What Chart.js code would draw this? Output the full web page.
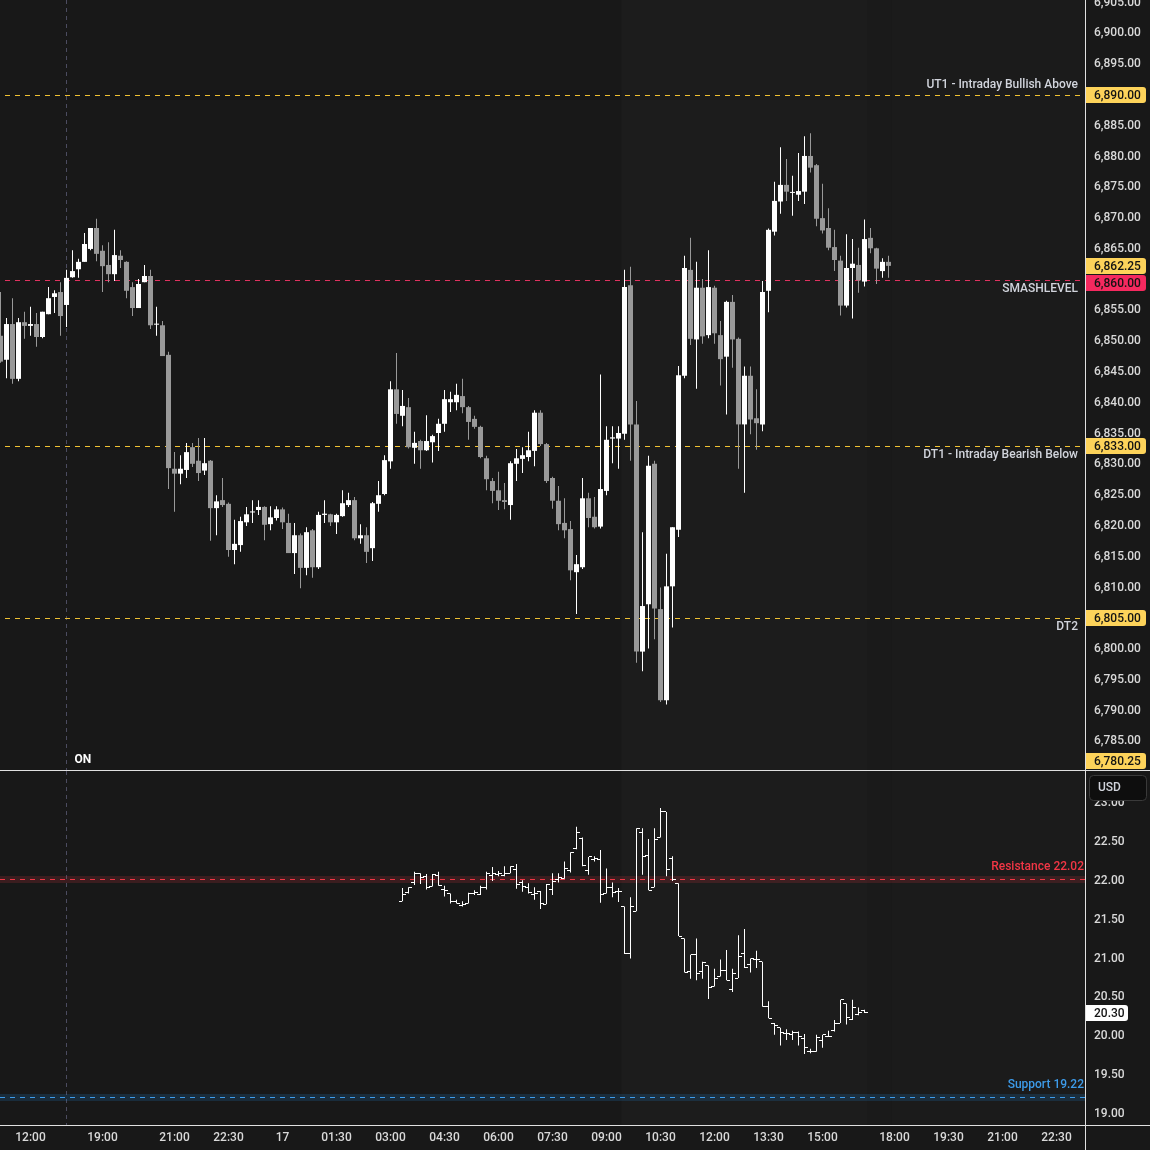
<!DOCTYPE html>
<html>
<head>
<meta charset="utf-8">
<script src="https://cdn.jsdelivr.net/npm/chart.js@4.4.1/dist/chart.umd.min.js"></script>
<style>
  html, body { margin: 0; padding: 0; background: #181818; }
  #wrap { position: relative; width: 1150px; height: 1150px; overflow: hidden; }
  #top { position: absolute; left: 0; top: 0; }
  #bot { position: absolute; left: 0; top: 770px; }
</style>
</head>
<body>
<div id="wrap">
  <canvas id="top" width="1150" height="770"></canvas>
  <canvas id="bot" width="1150" height="380"></canvas>
</div>
<script>
// ---- data: 10-minute ES candles, index 0 = 16:10, index 11 = 18:00 (overnight open)
const opens = [6850.9,6847.0,6852.8,6843.9,6853.1,6852.5,6852.8,6850.7,6854.4,6857.2,6858.0,6855.9,6860.4,6861.7,6862.9,6865.0,6868.4,6864.7,6862.4,6860.9,
  6863.9,6862.9,6858.8,6855.4,6859.6,6860.6,6852.7,6852.6,6847.8,6829.3,6828.5,6829.1,6832.8,6830.6,6829.0,6830.6,6822.9,6824.2,6823.6,6816.1,
  6816.9,6820.6,6822.2,6822.6,6823.1,6820.3,6821.3,6822.7,6820.5,6815.6,6818.5,6813.2,6819.3,6813.3,6821.8,6821.9,6820.6,6821.6,6823.4,6824.2,
  6818.0,6818.5,6816.4,6823.6,6825.2,6830.5,6842.2,6837.9,6839.3,6832.7,6833.8,6832.3,6833.6,6835.1,6836.6,6840.1,6840.1,6841.1,6839.3,6837.4,
  6836.1,6831.0,6827.3,6825.8,6824.2,6823.4,6830.1,6830.9,6831.2,6832.2,6838.4,6833.3,6827.8,6824.1,6820.5,6819.5,6812.5,6813.3,6824.5,6821.5,
  6819.9,6825.7,6834.2,6834.2,6835.0,6859.1,6836.5,6799.6,6807.3,6830.1,6806.5,6791.7,6810.2,6819.4,6844.4,6861.6,6850.3,6858.7,6851.0,6858.7,
  6851.0,6847.5,6856.4,6850.4,6836.5,6844.4,6837.5,6836.5,6858.2,6867.8,6872.7,6875.4,6874.1,6873.8,6874.3,6880.1,6878.6,6870.0,6868.4,6865.3,
  6863.1,6855.8,6861.9,6862.4,6859.7,6866.8,6865.1,6861.4,6862.9];
const highs = [6858.0,6853.8,6857.0,6853.8,6854.8,6855.6,6854.6,6854.8,6858.8,6858.3,6859.6,6861.6,6864.8,6863.4,6867.6,6868.4,6869.9,6865.6,6866.1,6868.1,
  6864.8,6863.0,6859.6,6860.1,6862.4,6861.6,6855.6,6853.3,6848.3,6832.0,6831.5,6833.5,6833.5,6834.3,6834.3,6830.7,6825.0,6827.8,6823.8,6821.0,
  6821.5,6823.1,6824.2,6824.2,6823.2,6823.2,6823.2,6823.0,6822.0,6820.5,6818.8,6819.8,6819.5,6822.3,6824.2,6822.0,6822.0,6825.8,6825.4,6824.7,
  6820.3,6819.8,6823.9,6827.3,6831.5,6843.5,6848.1,6842.1,6840.8,6835.3,6834.0,6838.0,6834.8,6837.4,6842.1,6841.8,6843.1,6843.9,6839.5,6837.9,
  6836.3,6831.4,6827.8,6828.8,6827.0,6830.5,6832.5,6832.8,6835.3,6838.8,6838.8,6833.5,6828.0,6826.5,6824.5,6820.8,6815.3,6827.8,6825.4,6824.7,
  6844.6,6836.2,6836.2,6836.2,6861.6,6862.1,6840.3,6819.0,6831.4,6830.6,6810.0,6815.5,6819.8,6846.0,6863.9,6866.8,6862.9,6860.1,6864.8,6859.0,
  6853.3,6856.6,6857.5,6850.6,6845.9,6845.9,6842.2,6859.8,6868.3,6875.9,6881.5,6879.6,6876.9,6880.6,6883.3,6883.8,6878.8,6875.6,6871.6,6868.1,
  6863.9,6867.4,6866.6,6865.2,6869.8,6868.4,6865.2,6863.5,6863.9];
const lows = [6846.5,6844.0,6843.1,6843.5,6850.4,6850.9,6849.1,6850.5,6854.4,6854.6,6850.9,6852.3,6860.3,6860.3,6862.9,6864.8,6863.0,6858.0,6859.6,6859.8,
  6861.9,6857.0,6854.1,6855.4,6859.6,6852.0,6850.9,6847.6,6826.0,6822.3,6826.8,6827.8,6829.6,6827.3,6828.3,6817.6,6818.5,6823.1,6815.0,6813.8,
  6815.8,6820.0,6820.5,6821.8,6817.7,6819.3,6820.9,6819.5,6815.6,6812.2,6809.9,6812.0,6811.6,6813.0,6820.5,6820.0,6818.7,6821.5,6823.1,6817.7,
  6817.1,6814.0,6814.3,6822.3,6825.0,6829.3,6836.6,6836.2,6832.6,6830.1,6829.3,6832.2,6830.3,6832.2,6835.3,6838.5,6838.8,6838.3,6834.0,6835.8,
  6831.0,6825.8,6823.7,6822.6,6822.7,6821.0,6827.3,6828.6,6830.5,6829.7,6833.0,6827.0,6822.8,6819.3,6818.0,6811.2,6805.7,6813.0,6819.8,6819.6,
  6819.6,6825.0,6830.2,6829.3,6834.0,6830.6,6797.8,6796.4,6800.1,6801.6,6791.4,6791.0,6803.5,6818.2,6844.0,6849.4,6842.3,6849.6,6850.5,6849.6,
  6842.8,6838.1,6845.7,6829.3,6825.4,6834.9,6832.4,6835.4,6854.7,6867.2,6870.7,6872.8,6870.4,6872.8,6872.3,6877.4,6868.7,6867.5,6864.8,6861.4,
  6854.2,6855.5,6853.7,6857.9,6858.9,6864.3,6859.3,6860.3,6860.3];
const closes = [6846.7,6852.8,6843.9,6853.1,6852.5,6852.8,6850.7,6854.8,6857.0,6857.8,6854.1,6860.3,6861.4,6862.9,6865.8,6868.4,6864.2,6862.2,6860.9,6864.0,
  6863.2,6858.2,6855.4,6859.3,6860.6,6852.6,6852.8,6847.6,6829.4,6828.5,6829.3,6832.0,6830.1,6828.6,6830.2,6822.9,6824.0,6823.4,6816.1,6817.1,
  6820.8,6821.9,6822.3,6823.1,6820.2,6821.4,6822.7,6820.6,6815.6,6818.5,6813.2,6819.0,6813.3,6821.8,6822.0,6820.6,6821.8,6823.7,6824.2,6818.0,
  6818.5,6815.8,6823.7,6825.0,6830.7,6842.2,6838.2,6839.5,6832.8,6833.5,6832.3,6833.8,6834.6,6836.6,6840.6,6840.6,6841.3,6839.3,6836.9,6836.1,
  6831.2,6827.6,6825.7,6824.1,6823.9,6830.2,6831.0,6831.5,6832.3,6838.4,6833.3,6827.3,6824.1,6820.3,6819.3,6812.8,6813.8,6824.5,6821.3,6819.8,
  6826.0,6834.0,6834.4,6835.1,6858.8,6836.5,6799.6,6807.0,6829.8,6806.6,6791.7,6810.2,6819.8,6844.5,6861.9,6850.4,6858.7,6850.8,6858.8,6851.3,
  6847.1,6856.4,6850.3,6836.5,6844.4,6837.3,6836.7,6858.0,6868.1,6872.8,6875.4,6874.3,6874.2,6874.4,6880.1,6878.2,6869.9,6868.0,6865.2,6863.2,
  6855.8,6861.9,6862.6,6859.9,6866.6,6865.1,6861.8,6862.9,6862.25];

// VIX bars, first bar at candle index 67 (03:20)
const VIX_START = 67;
const vixOpen = [21.74,21.85,21.98,22.10,22.06,21.93,22.07,21.89,21.84,21.74,21.69,21.71,21.84,21.82,21.91,22.07,22.09,22.07,22.10,22.15,
  21.98,21.92,21.83,21.87,21.70,21.89,22.02,22.03,22.13,22.42,22.55,22.14,22.28,22.28,21.84,21.91,21.87,21.67,21.06,21.61,
  22.63,22.33,21.92,22.56,22.89,22.29,21.97,21.26,20.84,21.05,20.84,20.91,20.64,20.77,20.85,20.60,20.75,21.07,20.93,20.99,
  20.96,20.38,20.16,20.11,20.04,20.02,20.05,19.97,19.80,19.80,19.95,20.00,20.08,20.17,20.42,20.21,20.28,20.33];
const vixHigh = [21.91,21.92,22.12,22.10,22.09,22.09,22.12,21.94,21.84,21.76,21.74,21.85,21.88,21.94,22.12,22.18,22.13,22.19,22.19,22.22,
  22.01,21.97,21.92,21.87,21.96,22.10,22.10,22.25,22.37,22.70,22.56,22.31,22.32,22.40,22.16,21.98,21.91,21.67,21.79,22.68,
  22.68,22.54,22.68,22.94,22.89,22.32,21.97,21.26,21.05,21.26,20.96,20.91,20.87,20.99,21.11,20.87,21.30,21.38,21.00,21.10,
  20.96,20.45,20.17,20.11,20.09,20.07,20.06,20.03,19.84,20.02,20.02,20.07,20.21,20.47,20.42,20.47,20.37,20.34];
const vixLow = [21.74,21.84,21.95,21.96,21.89,21.93,21.94,21.80,21.71,21.71,21.67,21.71,21.82,21.82,21.89,22.00,22.06,22.06,22.10,21.90,
  21.86,21.84,21.76,21.64,21.70,21.82,21.98,22.03,22.11,22.41,22.19,22.08,22.25,21.72,21.84,21.79,21.73,21.06,21.00,21.61,
  22.08,21.88,21.92,22.56,22.06,22.00,21.29,20.82,20.74,20.72,20.74,20.48,20.64,20.77,20.72,20.57,20.75,20.88,20.82,20.88,
  20.38,20.23,20.02,19.88,19.95,19.95,19.88,19.77,19.78,19.80,19.85,19.99,20.06,20.17,20.15,20.21,20.27,20.30];
const vixClose = [21.83,21.91,22.10,22.05,21.92,22.09,21.94,21.88,21.74,21.71,21.70,21.84,21.85,21.91,22.10,22.10,22.10,22.10,22.19,21.96,
  21.93,21.85,21.84,21.71,21.96,22.00,22.05,22.16,22.37,22.62,22.20,22.31,22.29,21.83,21.92,21.85,21.86,21.06,21.67,22.68,
  22.32,21.88,22.54,22.90,22.15,22.02,21.29,20.82,21.05,20.81,20.95,20.63,20.75,20.85,20.72,20.81,21.03,20.88,21.00,20.99,
  20.38,20.23,20.14,20.05,20.04,20.05,19.99,19.86,19.80,19.98,20.02,19.99,20.17,20.47,20.24,20.37,20.31,20.30];

// axis ticks
const timeTickIdx = [5, 17, 29, 38, 47, 56, 65, 74, 83, 92, 101, 110, 119, 128, 137, 149, 158, 167, 176];
const timeTickLabels = ['12:00','19:00','21:00','22:30','17','01:30','03:00','04:30','06:00','07:30','09:00','10:30','12:00','13:30','15:00','18:00','19:30','21:00','22:30'];
const priceTicks = [6785,6790,6795,6800,6810,6815,6820,6825,6830,6835,6840,6845,6850,6855,6865,6870,6875,6880,6885,6895,6900,6905];
const vixTicks = [19.0, 19.5, 20.0, 20.5, 21.0, 21.5, 22.0, 22.5, 23.0];

// key levels
const levelPrices = [6890, 6860, 6833, 6805];
const levelNames = ['UT1 - Intraday Bullish Above', 'SMASHLEVEL', 'DT1 - Intraday Bearish Below', 'DT2'];
const offscreenLevel = 6780.25;
const vixLevels = [22.02, 19.22];
const vixLevelNames = ['Resistance 22.02', 'Support 19.22'];

// session shading (candle index boundaries)
const sessionFrom = [103.5, 144.5, 148.5];
const sessionTo = [144.5, 148.5, 180.75];
const onIndex = 11;

// ---- styles
const BG = '#181818';
const SESSION_BG = ['#1c1c1c', '#1a1a1a', '#1b1b1b'];
const UP = '#ffffff', DOWN = '#999999';
const YELLOW = '#fdd35a', YELLOW_LINE = '#f0c232';
const PINK = '#f5295f', PINK_LINE = '#e0325f';
const AXIS = '#e0e0e0';
const TEXT = '#d9d9d9';
const FONT = 'Roboto, "Liberation Sans", Arial, sans-serif';
const WEIGHT = '500';
const X_MIN = -1 / 12, X_MAX = 180.75;

const fmt = v => v.toLocaleString('en-US', { minimumFractionDigits: 2, maximumFractionDigits: 2 });

function dashH(ctx, x0, x1, y, color, dash) {
  ctx.save();
  ctx.strokeStyle = color;
  ctx.lineWidth = 1;
  ctx.setLineDash(dash);
  ctx.beginPath();
  ctx.moveTo(x0, Math.round(y) + 0.5);
  ctx.lineTo(x1, Math.round(y) + 0.5);
  ctx.stroke();
  ctx.restore();
}

function badge(ctx, y, fill, text, textColor, w) {
  ctx.save();
  ctx.fillStyle = fill;
  ctx.beginPath();
  ctx.roundRect(1086, Math.round(y - 8), w || 60, 16, [0, 3, 3, 0]);
  ctx.fill();
  ctx.fillStyle = textColor;
  ctx.font = WEIGHT + ' 12px ' + FONT;
  ctx.textAlign = 'left';
  ctx.textBaseline = 'middle';
  ctx.fillText(text, 1094, Math.round(y) + 0.5);
  ctx.restore();
}

function paintSessions(chart) {
  const { ctx, chartArea: a, scales: { x } } = chart;
  ctx.save();
  ctx.fillStyle = BG;
  ctx.fillRect(0, 0, chart.width, chart.height);
  sessionFrom.forEach((s, k) => {
    const x0 = x.getPixelForValue(s), x1 = x.getPixelForValue(sessionTo[k]);
    ctx.fillStyle = SESSION_BG[k];
    ctx.fillRect(x0, a.top, x1 - x0, a.bottom - a.top);
  });
  ctx.restore();
}

function onLine(chart, y0, y1) {
  const { ctx, scales: { x } } = chart;
  const px = Math.floor(x.getPixelForValue(onIndex)) + 0.5;
  ctx.save();
  ctx.strokeStyle = '#4c4c60';
  ctx.lineWidth = 1;
  ctx.setLineDash([4, 4]);
  ctx.beginPath();
  ctx.moveTo(px, y0);
  ctx.lineTo(px, y1);
  ctx.stroke();
  ctx.restore();
}

// keep the axis labels from shrinking the plot area
const noPadY = s => { s.width = 65; s.paddingTop = 0; s.paddingBottom = 0; };
const noPadX = s => { s.height = 25; s.paddingLeft = 0; s.paddingRight = 0; };

const topDecor = {
  id: 'topDecor',
  beforeDraw: paintSessions,
  beforeDatasetsDraw(chart) {
    const { ctx, chartArea: a, scales: { y } } = chart;
    onLine(chart, a.top, a.bottom);
    levelPrices.forEach((p, k) => {
      dashH(ctx, 5, a.right, y.getPixelForValue(p), k === 1 ? PINK_LINE : YELLOW_LINE, [5, 5]);
    });
  },
  afterDatasetsDraw(chart) {
    const { ctx, chartArea: a, scales: { x, y } } = chart;
    ctx.save();
    ctx.font = WEIGHT + ' 12px ' + FONT;
    ctx.fillStyle = '#d1d4dc';
    ctx.textAlign = 'right';
    ctx.textBaseline = 'middle';
    levelPrices.forEach((p, k) => {
      const py = y.getPixelForValue(p);
      ctx.fillText(levelNames[k], a.right - 7, k === 0 ? py - 10 : py + 9);
    });
    ctx.font = 'bold 12px ' + FONT;
    ctx.fillStyle = '#ffffff';
    ctx.textAlign = 'left';
    ctx.fillText('ON', x.getPixelForValue(onIndex) + 8, a.bottom - 10);
    ctx.restore();
  },
  afterDraw(chart) {
    const { ctx, chartArea: a, scales: { y } } = chart;
    ctx.save();
    ctx.fillStyle = AXIS;
    ctx.fillRect(Math.round(a.right), 0, 1, chart.height);
    ctx.restore();
    const last = closes[closes.length - 1];
    const items = [
      { v: 6890, c: YELLOW }, { v: last, c: YELLOW }, { v: 6860, c: PINK },
      { v: 6833, c: YELLOW }, { v: 6805, c: YELLOW }, { v: offscreenLevel, c: YELLOW }
    ].map(b => ({ ...b, py: Math.min(a.bottom - 9, Math.max(8, y.getPixelForValue(b.v))) }))
     .sort((p, q) => p.py - q.py);
    for (let k = 1; k < items.length; k++) {
      if (items[k].py < items[k - 1].py + 17) items[k].py = items[k - 1].py + 17;
    }
    items.forEach(b => badge(ctx, b.py, b.c, fmt(b.v), '#131313'));
  }
};

const botDecor = {
  id: 'botDecor',
  beforeDraw: paintSessions,
  beforeDatasetsDraw(chart) {
    const { ctx, chartArea: a, scales: { y } } = chart;
    onLine(chart, a.top, a.bottom);
    const cols = ['#f23645', '#3d9be9'];
    const bands = ['rgba(242,54,69,0.16)', 'rgba(33,150,243,0.16)'];
    vixLevels.forEach((v, k) => {
      const py = Math.round(y.getPixelForValue(v));
      ctx.fillStyle = bands[k];
      ctx.fillRect(a.left, py - 3, a.right - a.left, 7);
      dashH(ctx, a.left, a.right, py, cols[k], [5, 5]);
    });
  },
  afterDatasetsDraw(chart) {
    const { ctx, scales: { x, y } } = chart;
    ctx.save();
    ctx.fillStyle = '#ffffff';
    vixOpen.forEach((o, k) => {
      const lx = Math.round(x.getPixelForValue(VIX_START + k) - 0.5);
      ctx.fillRect(lx - 3, Math.round(y.getPixelForValue(o) - 0.5), 3, 1);
      ctx.fillRect(lx + 1, Math.round(y.getPixelForValue(vixClose[k]) - 0.5), 3, 1);
    });
    ctx.restore();
  },
  afterDraw(chart) {
    const { ctx, chartArea: a, scales: { y } } = chart;
    const cols = ['#f23645', '#3d9be9'];
    ctx.save();
    ctx.font = WEIGHT + ' 12px ' + FONT;
    ctx.textAlign = 'right';
    ctx.textBaseline = 'middle';
    vixLevels.forEach((v, k) => {
      ctx.fillStyle = cols[k];
      ctx.fillText(vixLevelNames[k], a.right - 1, y.getPixelForValue(v) - 12);
    });
    // frame lines
    ctx.fillStyle = AXIS;
    ctx.fillRect(0, 0, chart.width, 1);
    ctx.fillRect(0, Math.round(a.bottom), chart.width, 1);
    ctx.fillRect(Math.round(a.right), 0, 1, chart.height);
    // currency box
    ctx.fillStyle = '#0e0e0e';
    ctx.strokeStyle = '#3a3a3a';
    ctx.lineWidth = 1;
    ctx.beginPath();
    ctx.roundRect(1089.5, 5.5, 57, 25, 4);
    ctx.fill();
    ctx.stroke();
    ctx.fillStyle = '#d1d4dc';
    ctx.textAlign = 'left';
    ctx.fillText('USD', 1098, 18);
    ctx.restore();
    badge(ctx, y.getPixelForValue(vixClose[vixClose.length - 1]), '#ffffff', fmt(vixClose[vixClose.length - 1]), '#131313', 42);
  }
};

const idx = opens.map((_, i) => i);
const candleColors = idx.map(i => closes[i] >= opens[i] ? UP : DOWN);
const barBase = { grouped: false, barPercentage: 1, categoryPercentage: 1, borderWidth: 0, inflateAmount: 0, minBarLength: 1 };
const tickFont = { family: FONT, size: 12, weight: WEIGHT };

new Chart(document.getElementById('top'), {
  type: 'bar',
  data: {
    datasets: [
      { ...barBase, label: 'body', data: idx.map(i => ({ x: i, y: [opens[i], closes[i]] })), backgroundColor: candleColors, maxBarThickness: 5 },
      { ...barBase, label: 'wick', data: idx.map(i => ({ x: i, y: [lows[i], highs[i]] })), backgroundColor: candleColors, maxBarThickness: 1 }
    ]
  },
  options: {
    responsive: false,
    animation: false,
    layout: { padding: 0 },
    plugins: { legend: { display: false }, tooltip: { enabled: false } },
    scales: {
      x: { type: 'linear', min: X_MIN, max: X_MAX, offset: false, display: false },
      y: {
        position: 'right', min: 6780.37, max: 6905.43,
        afterFit: noPadY,
        afterBuildTicks: s => { s.ticks = priceTicks.map(v => ({ value: v })); },
        grid: { display: false, drawTicks: false },
        border: { display: false },
        ticks: { color: TEXT, padding: 9, font: tickFont, callback: v => fmt(v) }
      }
    }
  },
  plugins: [topDecor]
});

const vixIdx = vixOpen.map((_, k) => VIX_START + k);
new Chart(document.getElementById('bot'), {
  type: 'bar',
  data: {
    datasets: [
      { ...barBase, label: 'VIX', data: vixIdx.map((i, k) => ({ x: i, y: [vixLow[k], vixHigh[k]] })), backgroundColor: '#ffffff', maxBarThickness: 1 }
    ]
  },
  options: {
    responsive: false,
    animation: false,
    layout: { padding: { top: 1 } },
    plugins: { legend: { display: false }, tooltip: { enabled: false } },
    scales: {
      x: {
        type: 'linear', min: X_MIN, max: X_MAX, offset: false,
        afterFit: noPadX,
        afterBuildTicks: s => { s.ticks = timeTickIdx.map(v => ({ value: v })); },
        grid: { display: false, drawTicks: false },
        border: { display: false },
        ticks: { color: TEXT, padding: 6, autoSkip: false, maxRotation: 0, font: tickFont, callback: (v, k) => timeTickLabels[k] }
      },
      y: {
        position: 'right', min: 18.856, max: 23.4175,
        afterFit: noPadY,
        afterBuildTicks: s => { s.ticks = vixTicks.map(v => ({ value: v })); },
        grid: { display: false, drawTicks: false },
        border: { display: false },
        ticks: { color: TEXT, padding: 9, font: tickFont, callback: v => fmt(v) }
      }
    }
  },
  plugins: [botDecor]
});
</script>
</body>
</html>
